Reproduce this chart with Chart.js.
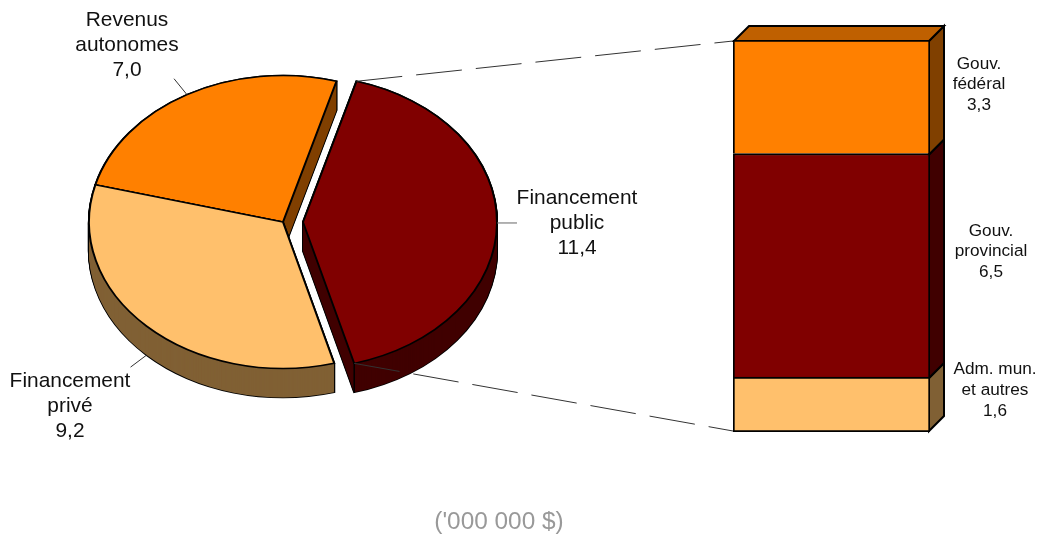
<!DOCTYPE html>
<html>
<head>
<meta charset="utf-8">
<title>Financement</title>
<script src="https://cdn.jsdelivr.net/npm/chart.js@4"></script>
<style>
    body { margin: 0; background: #fff; }
    #wrap { position: relative; width: 1037px; height: 535px; overflow: hidden; }
    canvas { position: absolute; left: 0; top: 0; }
</style>
</head>
<body>
<div id="wrap">
    <canvas id="barCanvas" width="1037" height="535"></canvas>
    <canvas id="pieCanvas" width="1037" height="535"></canvas>
</div>
<script>
// data
var pieLabels = [['Financement', 'public'], ['Financement', 'privé'], ['Revenus', 'autonomes']];
var pieValues = [11.4, 9.2, 7.0];
var barLabels = [['Adm. mun.', 'et autres'], ['Gouv.', 'provincial'], ['Gouv.', 'fédéral']];
var barValues = [1.6, 6.5, 3.3];
var unitLabel = "('000 000 $)";

// styles
var topColors = ['#800000', '#FFC06C', '#FF8000'];
var wallColors = ['#400000', '#806034', '#804000'];
var barTopColor = '#BF6000';
var barFill = ['#FFC06C', '#800000', '#FF8000'];
var barSide = ['#806034', '#400000', '#804000'];
var SQUASH = 0.755, DEPTH = 29, EXPLODE = [20, 0, 0];
var BAR_DEPTH = 15;
var labelFont = '20.9px "Liberation Sans"';
var smallFont = '17.2px "Liberation Sans"';

function fmt(v) { return v.toFixed(1).replace('.', ','); }

function drawLabel(ctx, lines, x, y, step, font, color) {
    ctx.save();
    ctx.font = font;
    ctx.fillStyle = color || '#111';
    ctx.textAlign = 'center';
    ctx.textBaseline = 'middle';
    lines.forEach(function (line, i) { ctx.fillText(line, x, y + i * step); });
    ctx.restore();
}

// one slice of the pie, squashed, at some height of the wall
function drawSlice(ctx, arc, i, d, fill, border, width) {
    var mid = (arc.startAngle + arc.endAngle) / 2;
    var o = arc.options;
    arc.options = Object.assign({}, o, { backgroundColor: fill, borderColor: border, borderWidth: width });
    ctx.save();
    ctx.translate(arc.x + Math.cos(mid) * EXPLODE[i], arc.y + Math.sin(mid) * EXPLODE[i] * SQUASH + d);
    ctx.scale(1, SQUASH);
    ctx.translate(-arc.x, -arc.y);
    arc.draw(ctx);
    ctx.restore();
    arc.options = o;
}

// point on the rim of a slice, on the page
function rim(arc, i, angle, d) {
    var mid = (arc.startAngle + arc.endAngle) / 2;
    return {
        x: arc.x + Math.cos(mid) * EXPLODE[i] + Math.cos(angle) * arc.outerRadius,
        y: arc.y + (Math.sin(mid) * EXPLODE[i] + Math.sin(angle) * arc.outerRadius) * SQUASH + d
    };
}

function line(ctx, a, b, color, width, dash) {
    ctx.save();
    ctx.strokeStyle = color;
    ctx.lineWidth = width;
    ctx.setLineDash(dash || []);
    ctx.beginPath();
    ctx.moveTo(a.x, a.y);
    ctx.lineTo(b.x, b.y);
    ctx.stroke();
    ctx.restore();
}

var pie3d = {
    id: 'pie3d',
    beforeDatasetsDraw: function (chart) {
        var ctx = chart.ctx;
        var arcs = chart.getDatasetMeta(0).data;
        [2, 1, 0].forEach(function (i) {
            var arc = arcs[i], d;
            for (d = DEPTH; d >= 0; d--) drawSlice(ctx, arc, i, d, '#000', '#000', 2);
            for (d = DEPTH; d >= 0; d--) drawSlice(ctx, arc, i, d, wallColors[i], wallColors[i], 0);
            drawSlice(ctx, arc, i, 0, topColors[i], '#000', 2);
        });
        // front edge of the pulled out slice
        var a = rim(arcs[0], 0, arcs[0].endAngle, 0);
        line(ctx, a, { x: a.x, y: a.y + DEPTH }, '#000', 1.5);
        return false;
    },
    afterDraw: function (chart) {
        var ctx = chart.ctx;
        var arcs = chart.getDatasetMeta(0).data;
        var bars = barChart;
        var topBar = bars.getDatasetMeta(2).data[0];
        var lowBar = bars.getDatasetMeta(0).data[0];
        var left = topBar.x - topBar.width / 2;

        // dashed links to the bar
        line(ctx, rim(arcs[0], 0, arcs[0].startAngle, 0), { x: left, y: topBar.y + 1 }, '#333', 1, [46, 14]);
        line(ctx, rim(arcs[0], 0, arcs[0].endAngle, 0), { x: left, y: lowBar.base - 1 }, '#333', 1, [46, 14]);

        // leader lines, from the middle of each rim
        var mids = arcs.map(function (arc) { return (arc.startAngle + arc.endAngle) / 2; });
        var p = rim(arcs[0], 0, mids[0], 0);
        line(ctx, p, { x: p.x + 20, y: p.y }, '#666', 1);
        p = rim(arcs[1], 1, mids[1], DEPTH);
        line(ctx, p, { x: p.x - 16, y: p.y + 12 }, '#333', 1);
        p = rim(arcs[2], 2, mids[2], 0);
        line(ctx, p, { x: p.x - 13, y: p.y - 16 }, '#333', 1);

        // labels
        drawLabel(ctx, pieLabels[0].concat(fmt(pieValues[0])), 577, 198, 25, labelFont);
        drawLabel(ctx, pieLabels[1].concat(fmt(pieValues[1])), 70, 381, 25, labelFont);
        drawLabel(ctx, pieLabels[2].concat(fmt(pieValues[2])), 127, 20, 25, labelFont);
        drawLabel(ctx, barLabels[2].concat(fmt(barValues[2])), 979, 64, 20.5, smallFont);
        drawLabel(ctx, barLabels[1].concat(fmt(barValues[1])), 991, 231, 20.5, smallFont);
        drawLabel(ctx, barLabels[0].concat(fmt(barValues[0])), 995, 369, 21, smallFont);
        drawLabel(ctx, [unitLabel], 499, 522, 0, '24.4px "Liberation Sans"', '#999');
    }
};

var bar3d = {
    id: 'bar3d',
    beforeDatasetsDraw: function (chart) {
        var ctx = chart.ctx;
        ctx.save();
        ctx.strokeStyle = '#000';
        ctx.lineWidth = 2;
        ctx.lineJoin = 'miter';
        barValues.forEach(function (v, i) {
            var el = chart.getDatasetMeta(i).data[0];
            var r = el.x + el.width / 2 - 1;
            var top = el.y + 1, bottom = i === 0 ? el.base - 1 : el.base + 1;
            ctx.fillStyle = barSide[i];
            ctx.beginPath();
            ctx.moveTo(r, top);
            ctx.lineTo(r + BAR_DEPTH, top - BAR_DEPTH);
            ctx.lineTo(r + BAR_DEPTH, bottom - BAR_DEPTH);
            ctx.lineTo(r, bottom);
            ctx.closePath();
            ctx.fill();
            ctx.stroke();
        });
        var t = chart.getDatasetMeta(2).data[0];
        var l = t.x - t.width / 2 + 1, rr = t.x + t.width / 2 - 1, ty = t.y + 1;
        ctx.fillStyle = barTopColor;
        ctx.beginPath();
        ctx.moveTo(l, ty);
        ctx.lineTo(l + BAR_DEPTH, ty - BAR_DEPTH);
        ctx.lineTo(rr + BAR_DEPTH, ty - BAR_DEPTH);
        ctx.lineTo(rr, ty);
        ctx.closePath();
        ctx.fill();
        ctx.stroke();
        ctx.restore();
    }
};

var barChart = new Chart(document.getElementById('barCanvas'), {
    type: 'bar',
    data: {
        labels: [''],
        datasets: barValues.map(function (v, i) {
            return {
                data: [v],
                backgroundColor: barFill[i],
                borderColor: '#000',
                borderSkipped: false,
                borderWidth: { top: 2, left: 2, right: 2, bottom: i === 0 ? 2 : 0 },
                barPercentage: 1,
                categoryPercentage: 1
            };
        })
    },
    options: {
        responsive: false,
        animation: false,
        events: [],
        layout: { padding: { left: 733, right: 107, top: 40, bottom: 103 } },
        plugins: { legend: { display: false }, tooltip: { enabled: false } },
        scales: {
            x: { stacked: true, display: false },
            y: { stacked: true, display: false, min: 0, max: 11.4 }
        }
    },
    plugins: [bar3d]
});

new Chart(document.getElementById('pieCanvas'), {
    type: 'pie',
    data: {
        labels: pieLabels.map(function (l) { return l.join(' '); }),
        datasets: [{
            data: pieValues,
            backgroundColor: topColors,
            borderColor: '#000',
            borderJoinStyle: 'miter',
            borderWidth: 2
        }]
    },
    options: {
        responsive: false,
        animation: false,
        events: [],
        rotation: 16,
        radius: 194,
        layout: { padding: { left: 0, right: 471, top: 0, bottom: 91 } },
        plugins: { legend: { display: false }, tooltip: { enabled: false } }
    },
    plugins: [pie3d]
});
</script>
</body>
</html>
